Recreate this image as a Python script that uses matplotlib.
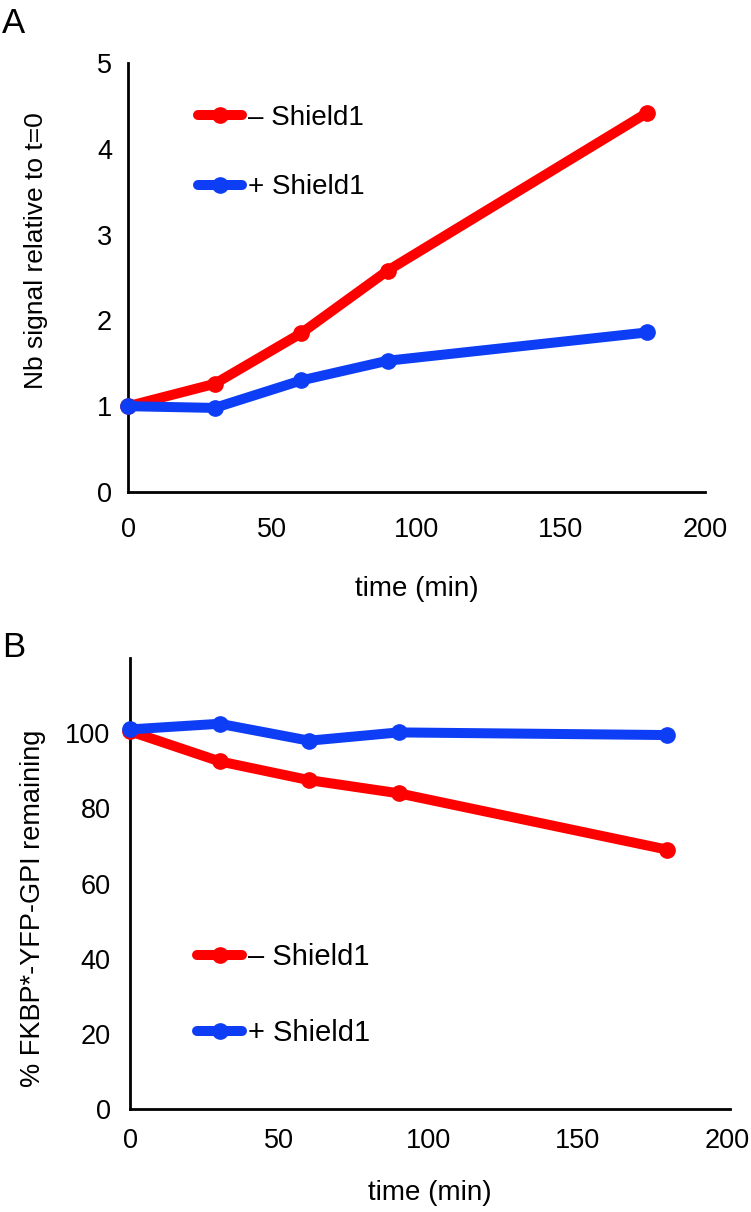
import matplotlib
matplotlib.use("Agg")
import matplotlib.pyplot as plt

plt.rcParams['font.family'] = ['Liberation Sans', 'DejaVu Sans']

# time points (min)
time_min = [0, 30, 60, 90, 180]

# panel A: Nb signal relative to t=0
nb_minus = [1.0, 1.26, 1.85, 2.58, 4.42]
nb_plus = [1.0, 0.98, 1.30, 1.53, 1.86]

# panel B: % FKBP*-YFP-GPI remaining
pct_minus = [100.5, 92.5, 87.5, 84.0, 69.0]
pct_plus = [101.0, 102.5, 98.0, 100.2, 99.5]

series_labels = ["\u2013 Shield1", "+ Shield1"]
xticks = [0, 50, 100, 150, 200]

RED = "#FF0000"
BLUE = "#0D3EF5"

W, H = 751, 1212
fig = plt.figure(figsize=(W / 100, H / 100), dpi=100)


def axes_px(left, top, right, bottom):
    return fig.add_axes([left / W, 1 - bottom / H, (right - left) / W, (bottom - top) / H])


def style(ax, xpad, ypad):
    for s in ("top", "right"):
        ax.spines[s].set_visible(False)
    for s in ("left", "bottom"):
        ax.spines[s].set_linewidth(2.0)
        ax.spines[s].set_color("black")
    ax.tick_params(axis="x", length=0, pad=xpad, labelsize=19.5)
    ax.tick_params(axis="y", length=0, pad=ypad, labelsize=19.5)


def draw(ax, y_minus, y_plus):
    for ys, c, lab in ((y_minus, RED, series_labels[0]), (y_plus, BLUE, series_labels[1])):
        ax.plot(time_min, ys, color=c, lw=7.2, marker="o", ms=11,
                solid_capstyle="round", solid_joinstyle="round",
                label=lab, clip_on=False, zorder=3)


# ---- panel A
axA = axes_px(128, 63, 705, 492)
style(axA, 18, 11.5)
draw(axA, nb_minus, nb_plus)
axA.set_xlim(0, 200)
axA.set_ylim(0, 5)
axA.set_xticks(xticks)
axA.set_yticks([0, 1, 2, 3, 4, 5])
axA.set_xlabel("time (min)", fontsize=20)
axA.xaxis.set_label_coords(0.5, -0.196)
axA.set_ylabel("Nb signal relative to t=0", fontsize=19)
axA.yaxis.set_label_coords(-0.139, 0.562)
axA.legend(loc="center left", bbox_to_anchor=(0.121, 0.791), frameon=False,
           fontsize=20, handlelength=1.58, handletextpad=0.22, labelspacing=1.56,
           borderpad=0, borderaxespad=0)

# ---- panel B
axB = axes_px(130, 658, 730, 1109)
style(axB, 14, 14)
draw(axB, pct_minus, pct_plus)
axB.set_xlim(0, 201)
axB.set_ylim(0, 120)
axB.set_xticks(xticks)
axB.set_yticks([0, 20, 40, 60, 80, 100])
axB.set_xlabel("time (min)", fontsize=20)
axB.xaxis.set_label_coords(0.5, -0.157)
axB.set_ylabel("% FKBP*-YFP-GPI remaining", fontsize=19.5)
axB.yaxis.set_label_coords(-0.14, 0.446)
axB.legend(loc="center left", bbox_to_anchor=(0.112, 0.252), frameon=False,
           fontsize=21, handlelength=1.54, handletextpad=0.2, labelspacing=1.65,
           borderpad=0, borderaxespad=0)

# panel letters
fig.text(2 / W, 1 - 33 / H, "A", fontsize=25, va="baseline", ha="left")
fig.text(2 / W, 1 - 657 / H, "B", fontsize=25, va="baseline", ha="left")

fig.savefig("out.png", dpi=100)
